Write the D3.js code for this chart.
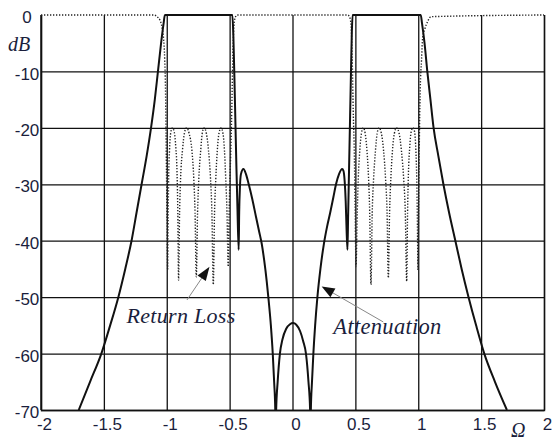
<!DOCTYPE html>
<html>
<head>
<meta charset="utf-8">
<script src="https://cdn.jsdelivr.net/npm/d3@7"></script>
<style>
  html, body { margin: 0; padding: 0; background: #fff; }
  svg { display: block; }
</style>
</head>
<body>
<svg id="chart" width="554" height="443"></svg>
<script>
// Frequency axis (normalised Ω) and level axis (dB)
const xTicks = [-2, -1.5, -1, -0.5, 0, 0.5, 1, 1.5, 2];
const xTickLabels = ["-2", "-1.5", "-1", "-0.5", "0", "0.5", "1", "1.5", "2"];
const yTicks = [0, -10, -20, -30, -40, -50, -60, -70];
const yTickLabels = ["0", "-10", "-20", "-30", "-40", "-50", "-60", "-70"];

// Attenuation (|S21| in dB) of the dual-band filter
const attenuationOmega = [
  -1.70, -1.61, -1.52, -1.45, -1.385, -1.33, -1.28, -1.24, -1.20, -1.16, -1.125, -1.095, -1.07, -1.045, -1.025, -1.015,
  -0.478, -0.47, -0.462, -0.454, -0.446, -0.438, -0.428, -0.424, -0.418, -0.41, -0.39, -0.37, -0.348, -0.32, -0.29, -0.265, -0.245, -0.225, -0.205, -0.19, -0.172, -0.157, -0.146, -0.137,
  -0.133,
  -0.130, -0.118, -0.100, -0.08, -0.05, -0.02, 0.005, 0.03, 0.06, 0.085, 0.107, 0.127, 0.140,
  0.143,
  0.146, 0.155, 0.166, 0.18, 0.198, 0.222, 0.25, 0.275, 0.30, 0.325, 0.346, 0.37, 0.395, 0.405, 0.415, 0.423, 0.43, 0.437, 0.442, 0.450, 0.458, 0.466, 0.472, 0.478,
  1.02, 1.03, 1.05, 1.072, 1.097, 1.122, 1.16, 1.20, 1.245, 1.295, 1.345, 1.40, 1.46, 1.525, 1.61, 1.705
];
const attenuationDb = [
  -70, -65, -60, -55, -50, -45, -40, -35, -30, -25, -20, -15, -10, -5, -1.5, 0,
  0, -4, -11, -19, -27, -34, -41.6, -35, -30.5, -28.2, -27.3, -28.2, -30, -32.6, -35.8, -38.4, -40.5, -43.5, -47.2, -50.5, -55, -60, -65, -70,
  -78,
  -70, -65, -60, -57.5, -55.6, -54.8, -54.6, -54.9, -56, -57.8, -60, -65, -70,
  -78,
  -70, -65, -60, -55, -50, -45, -40.5, -37.5, -35, -32.3, -30, -28.2, -27.3, -27.6, -29.5, -33, -38, -41.6, -36, -27, -18, -9, -3, 0,
  0, -1.5, -5, -10, -15, -20, -25, -30, -35, -40, -45, -50, -55, -60, -65, -70
];

// Return loss (|S11| in dB)
const returnLossOmega = [
  -2.0, -1.10, -1.078, -1.052, -1.035, -1.026, -1.016, -1.010, -1.006, -1.002, -0.998,
  -0.993, -0.989, -0.985, -0.978, -0.968, -0.955, -0.940, -0.928, -0.918, -0.912,
  -0.906, -0.898, -0.890, -0.875, -0.86, -0.843, -0.822, -0.80, -0.785, -0.775,
  -0.765, -0.755, -0.745, -0.73, -0.718, -0.703, -0.685, -0.668, -0.652, -0.641,
  -0.630, -0.620, -0.610, -0.598, -0.585, -0.568, -0.553, -0.541, -0.531, -0.521,
  -0.511, -0.503, -0.492, -0.483, -0.477, -0.471, -0.466, -0.459, -0.450, -0.44, -0.42,
  0.42, 0.44, 0.450, 0.459, 0.466, 0.471, 0.477, 0.483, 0.492, 0.498,
  0.505, 0.515, 0.523, 0.535, 0.548, 0.563, 0.578, 0.592, 0.605, 0.614,
  0.624, 0.634, 0.645, 0.66, 0.673, 0.688, 0.707, 0.724, 0.74, 0.752,
  0.762, 0.772, 0.782, 0.795, 0.81, 0.828, 0.848, 0.866, 0.884, 0.897,
  0.908, 0.915, 0.922, 0.932, 0.943, 0.958, 0.972, 0.981, 0.988, 0.993,
  0.998, 1.002, 1.006, 1.010, 1.016, 1.026, 1.035, 1.052, 1.078, 1.10, 2.0
];
const returnLossDb = [
  0, 0, -0.3, -1, -2.5, -4, -8, -13, -20, -28, -36,
  -45.2, -36, -29, -24, -20.8, -20, -20.8, -23.5, -28, -35,
  -47, -35, -29, -24, -21, -20, -21, -24, -29, -35,
  -46.4, -35, -29, -24, -21, -20, -21, -24, -29, -35,
  -47.8, -35, -29, -24, -21, -20, -21, -24, -29, -35,
  -44.6, -34, -25, -17, -10, -4.5, -2, -0.7, -0.2, 0, 0,
  0, 0, -0.2, -0.7, -2, -4.5, -10, -17, -25, -34,
  -44.6, -35, -29, -24, -21, -20, -21, -24, -29, -35,
  -47.8, -35, -29, -24, -21, -20, -21, -24, -29, -35,
  -46.6, -35, -29, -24, -21, -20, -21, -24, -29, -35,
  -47.2, -35, -28, -23.5, -20.8, -20, -20.8, -24, -29, -36,
  -45.2, -36, -28, -20, -13, -8, -4, -2.5, -1, -0.3, 0, 0
];

// Annotation anchors in data space: [Ω, dB]
const returnLossLabel = { text: "Return Loss", at: [-1.32, -54.6], tail: [-0.839, -50.5], tip: [-0.66, -44.6] };
const attenuationLabel = { text: "Attenuation", at: [0.325, -56.5], tail: [0.722, -54.4], tip: [0.232, -48.1] };

const svg = d3.select("#chart");
const plot = { left: 41, right: 544, top: 15, bottom: 410 };

const x = d3.scaleLinear().domain([-2, 2]).range([plot.left, plot.right]);
const y = d3.scaleLinear().domain([0, -70]).range([plot.top, plot.bottom]);

const textColor = "#1a1e3c";
const numberFont = "'Liberation Sans', Arial, sans-serif";
const italicFont = "'Liberation Serif', 'Times New Roman', serif";

// Grid + x axis
const xAxis = d3.axisBottom(x)
  .tickValues(xTicks)
  .tickSize(-(plot.bottom - plot.top))
  .tickPadding(8)
  .tickFormat((d, i) => xTickLabels[i]);

const gx = svg.append("g")
  .attr("transform", `translate(0,${plot.bottom})`)
  .call(xAxis);
gx.select(".domain").attr("stroke", "#111").attr("stroke-width", 1.4);
gx.selectAll(".tick line").attr("stroke", "#111").attr("stroke-width", 1.3);
gx.selectAll(".tick text")
  .attr("fill", textColor)
  .attr("dx", 3)
  .style("font-family", numberFont)
  .style("font-size", "17px");

// Grid + y axis
const yAxis = d3.axisLeft(y)
  .tickValues(yTicks)
  .tickSize(-(plot.right - plot.left))
  .tickPadding(0)
  .tickFormat((d, i) => yTickLabels[i]);

const gy = svg.append("g")
  .attr("transform", `translate(${plot.left},0)`)
  .call(yAxis);
gy.select(".domain").remove();
gy.selectAll(".tick line")
  .attr("stroke", "#111")
  .attr("stroke-width", 1.3)
  .attr("display", d => d === 0 ? "none" : null);
gy.selectAll(".tick text")
  .attr("fill", textColor)
  .attr("text-anchor", "middle")
  .attr("x", -14)
  .attr("dy", "0.45em")
  .style("font-family", numberFont)
  .style("font-size", "17px");

// Left frame edge
svg.append("line")
  .attr("x1", x(-2)).attr("x2", x(-2))
  .attr("y1", y(0)).attr("y2", y(-70))
  .attr("stroke", "#111").attr("stroke-width", 1.4);

// Clip the traces to the plotting window
svg.append("clipPath").attr("id", "plot-clip")
  .append("rect")
  .attr("x", plot.left).attr("y", plot.top - 1)
  .attr("width", plot.right - plot.left)
  .attr("height", plot.bottom - plot.top + 1);

const line = d3.line()
  .x(d => x(d[0]))
  .y(d => y(d[1]))
  .curve(d3.curveMonotoneX);

const returnLoss = returnLossOmega.map((w, i) => [w, returnLossDb[i]]);
const attenuation = attenuationOmega.map((w, i) => [w, attenuationDb[i]]);

const traces = svg.append("g").attr("clip-path", "url(#plot-clip)");

traces.append("path")
  .datum(returnLoss)
  .attr("fill", "none")
  .attr("stroke", "#222")
  .attr("stroke-width", 1.4)
  .attr("stroke-dasharray", "1.3,1.7")
  .attr("d", line);

traces.append("path")
  .datum(attenuation)
  .attr("fill", "none")
  .attr("stroke", "#111")
  .attr("stroke-width", 2)
  .attr("stroke-linejoin", "round")
  .attr("d", line);

// Annotations with arrows
function annotate(a, headLen, headHalf, size) {
  const [tx, ty] = [x(a.tip[0]), y(a.tip[1])];
  const [sx, sy] = [x(a.tail[0]), y(a.tail[1])];
  const ang = Math.atan2(ty - sy, tx - sx);
  const bx = tx - headLen * Math.cos(ang), by = ty - headLen * Math.sin(ang);
  svg.append("line")
    .attr("x1", sx).attr("y1", sy).attr("x2", bx).attr("y2", by)
    .attr("stroke", "#888").attr("stroke-width", 1);
  const nx = -Math.sin(ang), ny = Math.cos(ang);
  svg.append("path")
    .attr("d", `M${tx},${ty}L${bx + nx * headHalf},${by + ny * headHalf}L${bx - nx * headHalf},${by - ny * headHalf}Z`)
    .attr("fill", "#111");
  svg.append("text")
    .attr("x", x(a.at[0])).attr("y", y(a.at[1]))
    .attr("fill", textColor)
    .style("font-family", italicFont)
    .style("font-style", "italic")
    .style("font-size", size + "px")
    .style("letter-spacing", "0.3px")
    .text(a.text);
}
annotate(returnLossLabel, 14, 5, 22);
annotate(attenuationLabel, 13, 5, 22.5);

// Axis titles
svg.append("text")
  .attr("x", 8).attr("y", 51)
  .attr("fill", textColor)
  .style("font-family", italicFont)
  .style("font-style", "italic")
  .style("font-size", "20px")
  .text("dB");

svg.append("text")
  .attr("x", 511).attr("y", 437)
  .attr("fill", textColor)
  .style("font-family", italicFont)
  .style("font-style", "italic")
  .style("font-size", "20px")
  .text("Ω");
</script>
</body>
</html>
